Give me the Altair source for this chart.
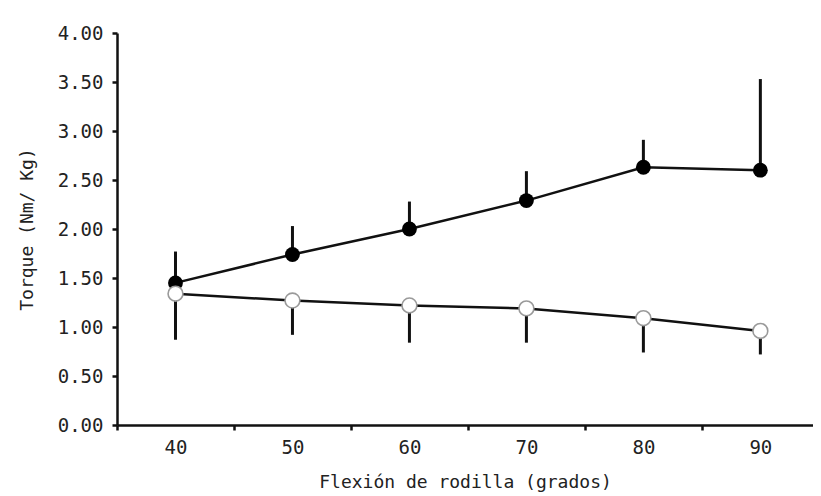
import altair as alt
import pandas as pd

angles = [40, 50, 60, 70, 80, 90]
filled_mean = [1.45, 1.74, 2.00, 2.29, 2.63, 2.60]
filled_top = [1.77, 2.03, 2.28, 2.59, 2.91, 3.53]
open_mean = [1.34, 1.27, 1.22, 1.19, 1.09, 0.96]
open_bottom = [0.87, 0.92, 0.84, 0.84, 0.74, 0.72]
x_ticks = [35, 40, 45, 50, 55, 60, 65, 70, 75, 80, 85, 90]
y_ticks = [0, 0.5, 1, 1.5, 2, 2.5, 3, 3.5, 4]

df = pd.DataFrame({
    "angle": angles,
    "fm": filled_mean,
    "ft": filled_top,
    "om": open_mean,
    "ob": open_bottom,
})

FONT = "DejaVu Sans Mono"

xenc = alt.X(
    "angle:Q",
    scale=alt.Scale(domain=[35, 94.5], nice=False, zero=False),
    axis=alt.Axis(
        values=x_ticks,
        labelExpr="datum.value % 10 == 0 ? datum.value : ''",
        tickOpacity={"condition": {"test": "datum.value % 10 == 0", "value": 0}, "value": 1},
        title="Flexión de rodilla (grados)",
        grid=False,
        domainColor="#111",
        domainWidth=2.5,
        tickColor="#111",
        tickWidth=2.5,
        tickSize=5,
        labelPadding=8,
        titlePadding=16,
        labelFlush=False,
        labelOverlap=False,
        labelFontSize=19,
    ),
)

yscale = alt.Scale(domain=[0, 4], nice=False)
yaxis = alt.Axis(
    values=y_ticks,
    format=".2f",
    title="Torque (Nm/ Kg)",
    grid=False,
    domainColor="#111",
    domainWidth=2.5,
    tickColor="#111",
    tickWidth=2.5,
    tickSize=5,
    labelPadding=9,
    titlePadding=21,
    labelFlush=False,
    labelOverlap=False,
    labelFontSize=19,
)

base = alt.Chart(df)

err_f = base.mark_rule(color="#111", strokeWidth=3).encode(
    x=xenc, y=alt.Y("fm:Q", scale=yscale, axis=yaxis), y2="ft:Q")
err_o = base.mark_rule(color="#111", strokeWidth=3).encode(
    x="angle:Q", y="om:Q", y2="ob:Q")
line_f = base.mark_line(color="#111", strokeWidth=2.5).encode(x="angle:Q", y="fm:Q")
line_o = base.mark_line(color="#111", strokeWidth=2.5).encode(x="angle:Q", y="om:Q")
pts_f = base.mark_point(filled=True, shape="circle", size=220, color="#000", opacity=1).encode(
    x="angle:Q", y="fm:Q")
pts_o = base.mark_point(shape="circle", size=220, fill="white", stroke="#9a9a9a",
                        strokeWidth=1.6, opacity=1, fillOpacity=1).encode(
    x="angle:Q", y="om:Q")

chart = alt.layer(err_f, err_o, line_f, line_o, pts_f, pts_o).properties(
    width=696,
    height=392,
    autosize=alt.AutoSizeParams(type="none"),
    padding={"left": 109, "top": 25, "right": 0, "bottom": 70},
    background="white",
).configure_view(stroke=None).configure_axis(
    labelFont=FONT, labelFontSize=19, labelColor="#222",
    titleFont=FONT, titleFontSize=18, titleColor="#222", titleFontWeight="normal",
)

chart.save("out.html", embed_options={"renderer": "svg", "actions": False})
